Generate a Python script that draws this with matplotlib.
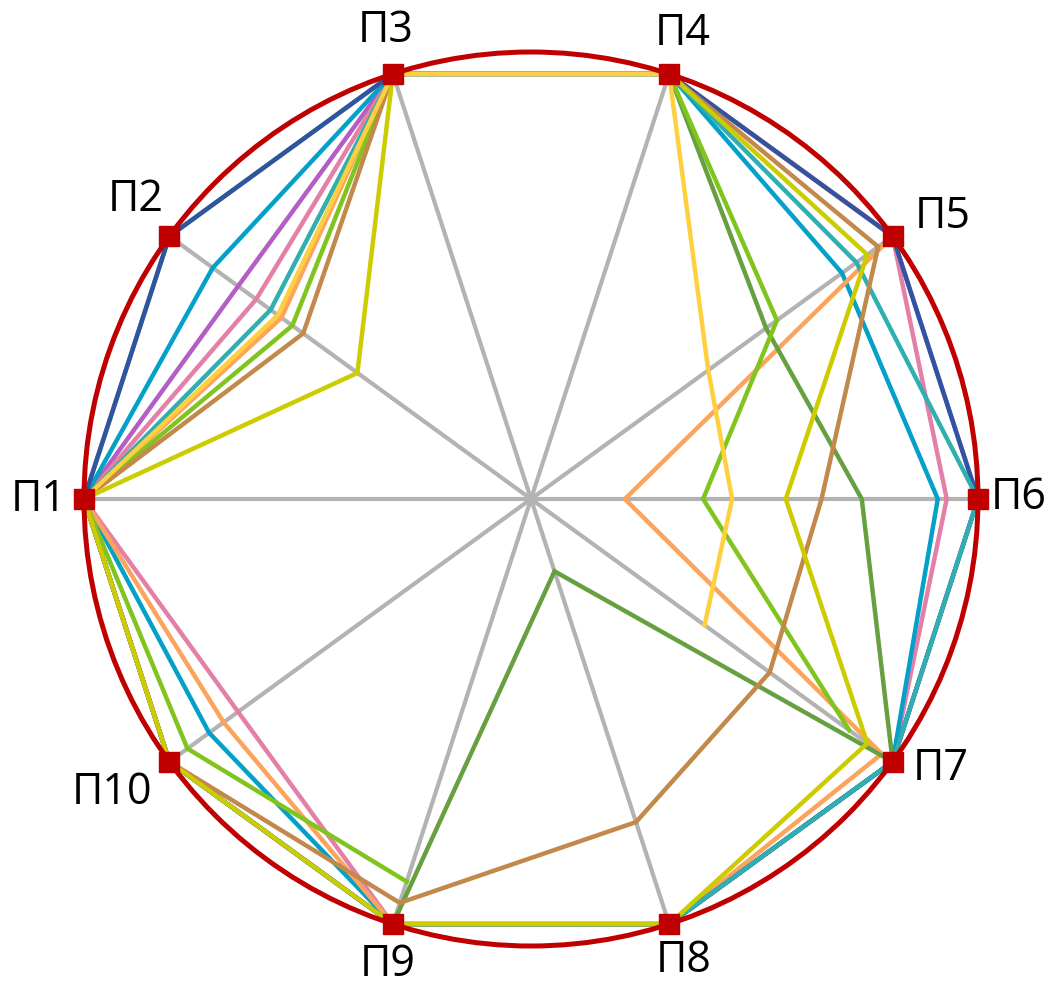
import numpy as np
import matplotlib.pyplot as plt
from matplotlib.patches import Circle

nan = np.nan

# axis labels, clockwise starting from the left
labels = ["П1", "П2", "П3", "П4", "П5", "П6", "П7", "П8", "П9", "П10"]

# values on each axis (П1..П10), 1 = on the circle, nan = gap
dark_blue    = [1.00, 1.00, 1.00, 1.00, 1.00, 1.00, 1.00, 1.00, 1.00, 1.00]
cyan         = [1.00, 0.88, 1.00, 1.00, 0.86, 0.91, 1.00, 1.00, 1.00, 0.89]
purple       = [1.00, 0.81, 1.00, 1.00, 1.00, 1.00, 1.00, 1.00, 1.00, 1.00]
pink         = [1.00, 0.76, 1.00, 1.00, 1.00, 0.93, 1.00, 1.00, 1.00, 0.81]
teal         = [1.00, 0.72, 1.00, 1.00, 0.90, 1.00, 1.00, 1.00, 1.00, 1.00]
gold         = [1.00, 0.70, 1.00, 1.00, 0.49, 0.45, 0.48, nan,  nan,  nan]
orange       = [1.00, 0.69, 1.00, 1.00, 1.00, 0.21, 0.97, 1.00, 1.00, 0.85]
light_green  = [1.00, 0.66, 1.00, 1.00, 0.68, 0.385, 0.88, nan, 0.90, 0.95]
brown        = [1.00, 0.63, 1.00, 1.00, 0.96, 0.65, 0.66, 0.76, 0.95, 1.00]
yellow_green = [1.00, 0.48, 1.00, 1.00, 0.93, 0.57, 0.93, 1.00, 1.00, 1.00]
dark_green   = [1.00, 1.00, 1.00, 1.00, 0.65, 0.74, 1.00, 0.17, 1.00, 1.00]

# drawing order (later = on top)
series = [
    (purple, "#b35ec3"),
    (pink, "#e480a7"),
    (cyan, "#03a0c8"),
    (orange, "#fda45c"),
    (dark_green, "#66a040"),
    (dark_blue, "#2f54a3"),
    (teal, "#30afb0"),
    (light_green, "#80c41e"),
    (brown, "#c2894a"),
    (yellow_green, "#cccc00"),
    (gold, "#fecf3e"),
]

RED = "#c00000"
GRAY = "#b3b3b3"

# label offsets from their marker (data units)
label_off = [(-0.101, 0.0), (-0.075, 0.083), (-0.015, 0.098), (0.031, 0.092),
             (0.113, 0.045), (0.092, 0.004), (0.108, -0.014), (0.033, -0.080),
             (-0.011, -0.088), (-0.128, -0.067)]

n = len(labels)
theta = np.pi - 2 * np.pi * np.arange(n) / n
ux, uy = np.cos(theta), np.sin(theta)

fig = plt.figure(figsize=(10.57, 9.87), dpi=100)
ax = fig.add_axes([0, 0, 1, 1])
ax.set_xlim(-531 / 447, 526 / 447)
ax.set_ylim(-487 / 447, 500 / 447)
ax.axis("off")

# spokes
for x, y in zip(ux, uy):
    ax.plot([0, x], [0, y], color=GRAY, lw=3.0, zorder=1, solid_capstyle="butt")

# series polygons (closed)
t_closed = np.append(theta, theta[0])
for vals, col in series:
    v = np.append(vals, vals[0])
    ax.plot(v * np.cos(t_closed), v * np.sin(t_closed), color=col, lw=3.2,
            zorder=2, solid_joinstyle="miter")

ax.add_patch(Circle((0, 0), 1.0, fill=False, edgecolor=RED, lw=3.6, zorder=3))
ax.plot(ux, uy, "s", color=RED, ms=14.4, zorder=4, linestyle="none")

for lab, x, y, (dx, dy) in zip(labels, ux, uy, label_off):
    ax.text(x + dx, y + dy, lab, fontsize=31, family=["Open Sans", "DejaVu Sans"],
            ha="center", va="center", zorder=5)

fig.savefig("out.png", dpi=100)
